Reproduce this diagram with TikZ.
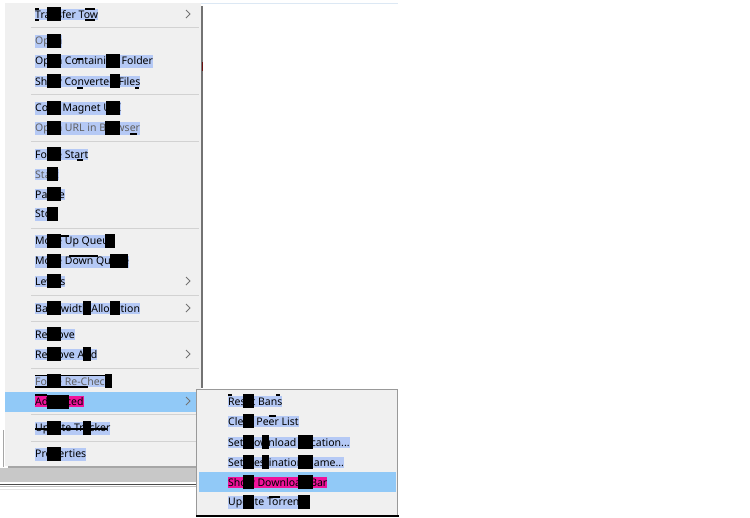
\documentclass[tikz,border=0pt]{standalone}
\usepackage{fontspec}
\setmainfont{Noto Sans}
\definecolor{menubg}{HTML}{F0F0F0}
\definecolor{rowblue}{HTML}{91C9F7}
\definecolor{hl}{HTML}{B5C9F5}
\definecolor{sepc}{HTML}{D2D2D2}
\definecolor{pinkc}{HTML}{F0129A}
\definecolor{bandc}{HTML}{C8C8C8}
\definecolor{grayt}{HTML}{606060}
\definecolor{topline}{HTML}{DCE8F4}
\definecolor{darkred}{HTML}{6A1010}
\tikzset{
  x=1pt,y=-1pt,
  itemtext/.style={anchor=west,inner sep=0pt,inner ysep=1.5pt,font=\fontsize{10.5}{12}\selectfont,text=black,fill=hl},
  dimtext/.style={itemtext,text=grayt},
  pinktext/.style={itemtext,fill=pinkc},
  sepline/.style={draw=sepc,line width=0.9pt},
  chev/.style={draw=black!55,line width=1pt},
  blockfill/.style={fill=black,draw=none},
}
\newcommand{\mitem}[5][itemtext]{\node[#1] (#2) at (#3,#4+0.7) {#5};}
\newcommand{\blk}[3]{\fill[blockfill] (#1,#3-7) rectangle (#2,#3+7);}
\newcommand{\dsh}[3]{\fill[blockfill] (#1,#3) rectangle (#2,#3+1.5);}
\newcommand{\chv}[1]{\draw[chev] (186,#1-4) -- (190,#1) -- (186,#1+4);}
\newcommand{\sepl}[1]{\draw[sepline] (31,#1) -- (199,#1);}
\begin{document}
\begin{tikzpicture}
\useasboundingbox (0,0) rectangle (750,517);
\fill[white] (0,0) rectangle (750,517);
% window behind the menu
\fill[bandc] (0,468) rectangle (197,482);
\draw[black!70,line width=0.8pt] (0,484.5) -- (197,484.5);
\draw[black!25,line width=0.6pt] (0,486.5) -- (197,486.5);
\draw[black!10,line width=1pt] (0,489) -- (90,489);
\draw[black!35,line width=0.6pt] (3.5,430) -- (3.5,467);
\draw[topline,line width=1pt] (201,3.5) -- (398,3.5);
% main menu
\fill[black!55] (201,6) rectangle (203,388);
\fill[darkred] (201.5,62) rectangle (203,71);
\fill[black!35] (8,465) rectangle (197,468);
\fill[menubg] (5,3) rectangle (201,466);
% separators
\foreach \yy in {27,94.5,141,228,295,321,368,414,441}{\sepl{\yy}}
% hovered row
\fill[rowblue] (5,392) rectangle (197,412);
% items
\mitem{t1}{35}{14}{Transfer Tow}
\blk{47}{61}{14}\dsh{35}{39}{8}\dsh{35}{39}{19}\dsh{85}{95}{8}\dsh{85}{95}{19}
\mitem[dimtext]{t2}{35}{41}{Open}
\blk{47}{61}{41}
\mitem{t3}{35}{61}{Open Containing Folder}
\blk{47}{61}{61}\blk{106}{120}{61}\dsh{77}{83}{58}
\mitem{t4}{35}{81}{Show Converted Files}
\blk{47}{61}{81}\blk{110}{120}{81}\dsh{77}{83}{87}\dsh{135}{139}{87}
\mitem{t5}{35}{108}{Copy Magnet URI}
\blk{47}{61}{108}\blk{106}{120}{108}
\mitem[dimtext]{t6}{35}{128}{Open URL in Browser}
\blk{47}{61}{128}\blk{105}{120}{128}\dsh{130}{137}{133}
\mitem{t7}{35}{154}{Force Start}
\blk{47}{61}{154}\dsh{77}{83}{159}
\mitem[dimtext]{t8}{35}{174}{Start}
\blk{47}{58}{174}
\mitem{t9}{35}{194}{Pause}
\blk{47}{61}{194}
\mitem{t10}{35}{214}{Stop}
\blk{47}{58}{214}
\mitem{t11}{35}{241}{Move Up Queue}
\blk{47}{61}{241}\blk{105}{115}{241}\dsh{61}{69}{235}
\mitem{t12}{35}{261}{Move Down Queue}
\blk{47}{61}{261}\blk{110}{128}{261}\dsh{69}{98}{255}
\mitem{t13}{35}{281}{Levels}
\blk{47}{61}{281}
\mitem{t14}{35}{308}{Bandwidth Allocation}
\blk{47}{61}{308}\blk{83}{91}{308}\blk{110}{120}{308}
\mitem{t15}{35}{334}{Remove}
\blk{47}{61}{334}
\mitem{t16}{35}{354}{Remove And}
\blk{47}{61}{354}\blk{83}{91}{354}
\mitem[dimtext]{t17}{35}{381}{Force Re-Check}
\blk{47}{61}{381}\dsh{35}{47}{386}\dsh{35}{112}{374.5}\blk{105}{112}{381}\dsh{61}{88}{386}
\mitem[pinktext]{t18}{35}{401}{Advanced}
\blk{47}{69}{402}\dsh{35}{47}{394}
\mitem{t19}{35}{428}{Update Tracker}
\blk{47}{61}{428}\blk{83}{91}{428}\dsh{35}{47}{428}\dsh{61}{107}{428}
\mitem{t20}{35}{454}{Properties}
\blk{47}{61}{454}
\foreach \yy in {14,281,308,354,401}{\chv{\yy}}
% submenu
\fill[menubg] (196,389) rectangle (398,515);
\draw[black!40,line width=0.7pt] (196.5,515) -- (196.5,389.5) -- (397.5,389.5) -- (397.5,515);
\fill[black] (196,515) rectangle (399,517);
\fill[rowblue] (199,472) rectangle (396,492);
\mitem{s1}{228}{401}{Reset Bans}
\blk{243}{254}{401}\dsh{228}{232}{394}\dsh{276}{280}{394}
\mitem{s2}{228}{421}{Clear Peer List}
\blk{243}{254}{421}\dsh{269}{276}{415}
\mitem{s3}{228}{442}{Set Download Location...}
\blk{243}{254}{442}\blk{298}{313}{442}\blk{262}{269}{442}
\mitem{s4}{228}{462}{Set Destination Name...}
\blk{243}{254}{462}\blk{298}{313}{462}\blk{262}{269}{462}
\mitem[pinktext]{s5}{228}{482}{Show Download Bar}
\blk{243}{254}{482}\blk{298}{313}{482}
\mitem{s6}{228}{502}{Update Torrent}
\blk{243}{254}{502}\blk{298}{310}{502}\dsh{269}{280}{496}
\end{tikzpicture}
\end{document}
